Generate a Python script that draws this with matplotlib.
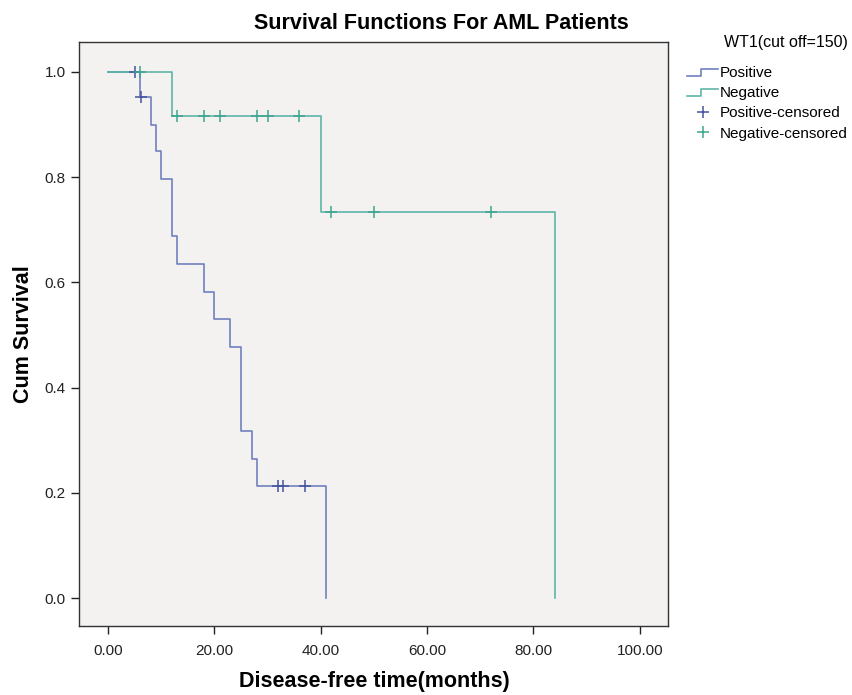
import matplotlib
matplotlib.use("Agg")
import matplotlib.pyplot as plt
from matplotlib.lines import Line2D
from matplotlib.legend_handler import HandlerBase
import numpy as np

plt.rcParams['font.family'] = ['Liberation Sans', 'DejaVu Sans']

# Kaplan-Meier steps
pos_t = [0, 6, 8, 9, 10, 12, 13, 18, 20, 23, 25, 27, 28, 41]
pos_s = [1.0, 0.953, 0.899, 0.849, 0.796, 0.688, 0.635, 0.582, 0.530,
         0.478, 0.318, 0.264, 0.213, 0.0]
neg_t = [0, 12, 40, 84]
neg_s = [1.0, 0.917, 0.734, 0.0]

# censored times
pos_cens = [5, 6.3, 32, 33, 37]
neg_cens = [6, 13, 18, 21, 28, 30, 36, 42, 50, 72]

xticks = [0, 20, 40, 60, 80, 100]
yticks = [0.0, 0.2, 0.4, 0.6, 0.8, 1.0]

pos_col = '#7080BE'
neg_col = '#5DB5A6'
pos_cens_col = '#45539F'
neg_cens_col = '#3EA690'


def level_at(t_steps, s_steps, t):
    i = np.searchsorted(t_steps, t, side='right') - 1
    return s_steps[i]


class StepHandler(HandlerBase):
    def create_artists(self, legend, orig, xd, yd, w, h, fontsize, trans):
        xs = [xd, xd + w * 0.45, xd + w * 0.45, xd + w]
        ys = [yd + h * 0.1, yd + h * 0.1, yd + h * 0.8, yd + h * 0.8]
        ln = Line2D(xs, ys, color=orig.get_color(), lw=orig.get_linewidth(),
                    transform=trans)
        return [ln]


fig = plt.figure(figsize=(8.53, 6.95), dpi=100)
ax = fig.add_axes([0.0926, 0.0993, 0.6905, 0.8403])
ax.set_facecolor('#F3F2F0')

l1, = ax.step(pos_t, pos_s, where='post', color=pos_col, lw=1.2)
l2, = ax.step(neg_t, neg_s, where='post', color=neg_col, lw=1.2)

pc_y = [level_at(pos_t, pos_s, t) for t in pos_cens]
nc_y = [level_at(neg_t, neg_s, t) for t in neg_cens]
m1, = ax.plot(pos_cens, pc_y, ls='none', marker='+', ms=9, mew=1.1,
              color=pos_cens_col)
m2, = ax.plot(neg_cens, nc_y, ls='none', marker='+', ms=9, mew=1.1,
              color=neg_cens_col)

ax.set_xlim(-5.45, 105.3)
ax.set_ylim(-0.053, 1.057)
ax.set_xticks(xticks)
ax.set_xticklabels(['%.2f' % v for v in xticks])
ax.set_yticks(yticks)
ax.set_yticklabels(['%.1f' % v for v in yticks])
ax.tick_params(direction='out', length=6, width=1, labelsize=11,
               colors='#222222')
ax.tick_params(axis='x', pad=7)
for sp in ax.spines.values():
    sp.set_color('#333333')
    sp.set_linewidth(1.0)

ax.set_ylabel('Cum Survival', fontsize=15.5, fontweight='bold', labelpad=8)
fig.text(0.4385, 1 - 682 / 695, 'Disease-free time(months)', ha='center',
         va='center', fontsize=15.5, fontweight='bold')
fig.text(0.517, 0.966, 'Survival Functions For AML Patients', ha='center',
         va='center', fontsize=15.5, fontweight='bold')

fig.text(0.994, 1 - 42 / 695, 'WT1(cut off=150)', ha='right', va='center',
         fontsize=11.5)
leg = fig.legend([l1, l2, m1, m2],
                 ['Positive', 'Negative', 'Positive-censored',
                  'Negative-censored'],
                 handler_map={l1: StepHandler(), l2: StepHandler()},
                 loc='upper left', bbox_to_anchor=(0.795, 1 - 57 / 695),
                 fontsize=11, frameon=False, handlelength=2.0,
                 handletextpad=0.15, labelspacing=0.4, borderpad=0.1)

fig.savefig('out.png', dpi=100, facecolor='white')
